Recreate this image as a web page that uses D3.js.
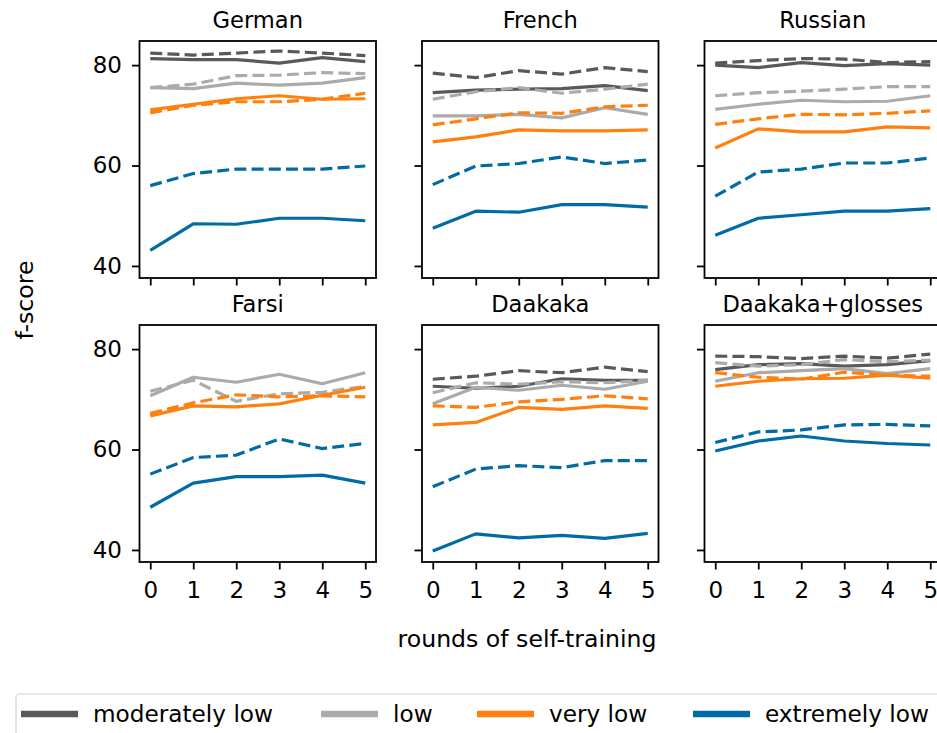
<!DOCTYPE html>
<html>
<head>
<meta charset="utf-8">
<script src="https://cdn.jsdelivr.net/npm/d3@7"></script>
<style>
  body { margin: 0; background: #fff; }
  text { font-family: "DejaVu Sans", sans-serif; fill: #000; }
</style>
</head>
<body>
<div id="chart"></div>
<script>
const rounds = [0, 1, 2, 3, 4, 5];
const levels = ["moderately low", "low", "very low", "extremely low"];
const colors = ["#595959", "#ABABAB", "#FF800E", "#006BA4"];
const languages = ["German", "French", "Russian", "Farsi", "Daakaka", "Daakaka+glosses"];
const yTicks = [40, 60, 80];

// rows: moderately low, low, very low, extremely low
const germanSolid = [
  [81.3, 81.1, 81.1, 80.4, 81.5, 80.7],
  [75.5, 75.3, 76.4, 76.0, 76.4, 77.5],
  [71.1, 72.2, 73.3, 73.9, 73.2, 73.3],
  [43.1, 48.4, 48.3, 49.5, 49.5, 49.0]];
const germanDashed = [
  [82.4, 82.0, 82.4, 82.8, 82.4, 81.9],
  [75.5, 76.2, 77.9, 78.0, 78.5, 78.3],
  [70.5, 72.0, 72.7, 72.7, 73.2, 74.4],
  [56.0, 58.4, 59.3, 59.3, 59.3, 59.9]];

const frenchSolid = [
  [74.5, 75.0, 75.2, 75.3, 75.9, 74.9],
  [69.9, 69.9, 70.2, 69.5, 71.5, 70.2],
  [64.7, 65.7, 67.1, 66.9, 66.9, 67.1],
  [47.5, 50.9, 50.7, 52.2, 52.2, 51.7]];
const frenchDashed = [
  [78.4, 77.5, 78.9, 78.2, 79.5, 78.7],
  [73.2, 74.7, 75.5, 74.4, 75.2, 76.2],
  [68.1, 69.3, 70.5, 70.4, 71.7, 72.0],
  [56.2, 59.9, 60.4, 61.7, 60.4, 61.1]];

const russianSolid = [
  [80.0, 79.5, 80.5, 79.9, 80.3, 80.0],
  [71.2, 72.2, 73.0, 72.7, 72.8, 73.9],
  [63.5, 67.3, 66.7, 66.7, 67.7, 67.5],
  [46.1, 49.5, 50.2, 50.9, 50.9, 51.4]];
const russianDashed = [
  [80.4, 80.9, 81.3, 81.2, 80.5, 80.7],
  [73.9, 74.5, 74.8, 75.2, 75.7, 75.7],
  [68.2, 69.3, 70.2, 70.1, 70.4, 70.9],
  [53.9, 58.7, 59.3, 60.5, 60.5, 61.5]];

const farsiSolid = [
  null,
  [70.7, 74.4, 73.4, 75.0, 73.1, 75.3],
  [66.7, 68.7, 68.5, 69.1, 70.8, 72.4],
  [48.5, 53.3, 54.6, 54.6, 54.9, 53.3]];
const farsiDashed = [
  null,
  [71.6, 73.8, 69.6, 71.1, 71.4, 72.6],
  [67.2, 69.3, 70.9, 70.5, 70.7, 70.5],
  [55.1, 58.4, 58.9, 62.1, 60.2, 61.2]];

const daakakaSolid = [
  [72.6, 72.2, 72.6, 74.1, 73.8, 73.8],
  [69.1, 72.4, 71.8, 72.8, 72.0, 73.6],
  [64.9, 65.4, 68.4, 68.0, 68.7, 68.2],
  [39.8, 43.2, 42.4, 42.9, 42.3, 43.3]];
const daakakaDashed = [
  [74.0, 74.6, 75.7, 75.3, 76.4, 75.5],
  [71.3, 73.3, 73.0, 73.5, 73.3, 73.8],
  [68.7, 68.4, 69.5, 70.0, 70.7, 70.1],
  [52.6, 56.1, 56.8, 56.4, 57.8, 57.8]];

const glossesSolid = [
  [75.9, 76.9, 77.1, 76.6, 76.9, 77.7],
  [73.6, 75.3, 75.7, 76.1, 75.1, 76.1],
  [72.6, 73.6, 74.1, 74.2, 74.8, 74.2],
  [59.7, 61.7, 62.7, 61.7, 61.2, 60.9]];
const glossesDashed = [
  [78.6, 78.5, 78.1, 78.6, 78.2, 79.0],
  [77.3, 76.6, 76.9, 77.9, 77.5, 77.8],
  [75.3, 74.4, 74.0, 75.4, 74.8, 74.6],
  [61.4, 63.5, 63.9, 64.9, 65.0, 64.7]];

const solidSets = [germanSolid, frenchSolid, russianSolid, farsiSolid, daakakaSolid, glossesSolid];
const dashedSets = [germanDashed, frenchDashed, russianDashed, farsiDashed, daakakaDashed, glossesDashed];

const W = 937, H = 733;
const panelLefts = [139.5, 422, 704.5];
const panelTops = [41, 325];
const pw = 236.5, ph = 237;
const tickFont = 23;
const labelFont = 23.6;
const legendFont = 23.2;

const svg = d3.select('#chart').append('svg')
  .attr('width', W).attr('height', H);

languages.forEach((lang, i) => {
  const col = i % 3, row = Math.floor(i / 3);
  const left = panelLefts[col], top = panelTops[row];

  const x = d3.scaleLinear().domain([-0.25, 5.25]).range([left, left + pw]);
  const y = d3.scaleLinear().domain([37.6, 84.8]).range([top + ph, top]);

  const g = svg.append('g');

  // axes
  const xAxis = d3.axisBottom(x).tickValues(rounds).tickSize(7.5).tickPadding(12.5)
    .tickFormat(row === 1 ? d3.format('d') : () => '');
  const gx = g.append('g').attr('transform', `translate(0,${top + ph})`).call(xAxis);

  const yAxis = d3.axisLeft(y).tickValues(yTicks).tickSize(7.5).tickPadding(10)
    .tickFormat(col === 0 ? d3.format('d') : () => '');
  const gy = g.append('g').attr('transform', `translate(${left},0)`).call(yAxis);

  [gx, gy].forEach(a => {
    a.select('.domain').remove();
    a.selectAll('.tick line').attr('stroke', '#000').attr('stroke-width', 1.8);
    a.selectAll('.tick text')
      .style('font-family', '"DejaVu Sans", sans-serif')
      .style('font-size', tickFont + 'px')
      .attr('fill', '#000');
  });

  const line = d3.line()
    .defined(d => d != null)
    .x((d, k) => x(rounds[k]))
    .y(d => y(d));

  levels.forEach((lev, li) => {
    const dashed = dashedSets[i][li];
    const solid = solidSets[i][li];
    if (solid) {
      g.append('path').datum(solid).attr('d', line)
        .attr('fill', 'none').attr('stroke', colors[li])
        .attr('stroke-width', 3.2).attr('stroke-linejoin', 'round');
    }
    if (dashed) {
      g.append('path').datum(dashed).attr('d', line)
        .attr('fill', 'none').attr('stroke', colors[li])
        .attr('stroke-width', 3.2).attr('stroke-dasharray', '12,5.2');
    }
  });

  // spines
  g.append('rect')
    .attr('x', left).attr('y', top).attr('width', pw).attr('height', ph)
    .attr('fill', 'none').attr('stroke', '#000').attr('stroke-width', 1.8);

  g.append('text')
    .attr('x', left + pw / 2).attr('y', top - 13)
    .attr('text-anchor', 'middle')
    .style('font-size', '22.6px')
    .text(lang);
});

svg.append('text')
  .attr('transform', 'translate(33,300) rotate(-90)')
  .attr('text-anchor', 'middle')
  .style('font-size', labelFont + 'px')
  .text('f-score');

svg.append('text')
  .attr('x', 527).attr('y', 647)
  .attr('text-anchor', 'middle')
  .style('font-size', labelFont + 'px')
  .text('rounds of self-training');

// legend
const legend = svg.append('g');
legend.append('rect')
  .attr('x', 16).attr('y', 694).attr('width', 940).attr('height', 80)
  .attr('rx', 4)
  .attr('fill', '#fff').attr('stroke', '#d0d0d0').attr('stroke-width', 1.2);

const legendX = [21, 321, 477, 693];
levels.forEach((lev, li) => {
  const lx = legendX[li];
  legend.append('line')
    .attr('x1', lx).attr('x2', lx + 57)
    .attr('y1', 714).attr('y2', 714)
    .attr('stroke', colors[li]).attr('stroke-width', 6.5);
  legend.append('text')
    .attr('x', lx + 72).attr('y', 714)
    .attr('dy', '0.35em')
    .style('font-size', legendFont + 'px')
    .text(lev);
});
</script>
</body>
</html>
